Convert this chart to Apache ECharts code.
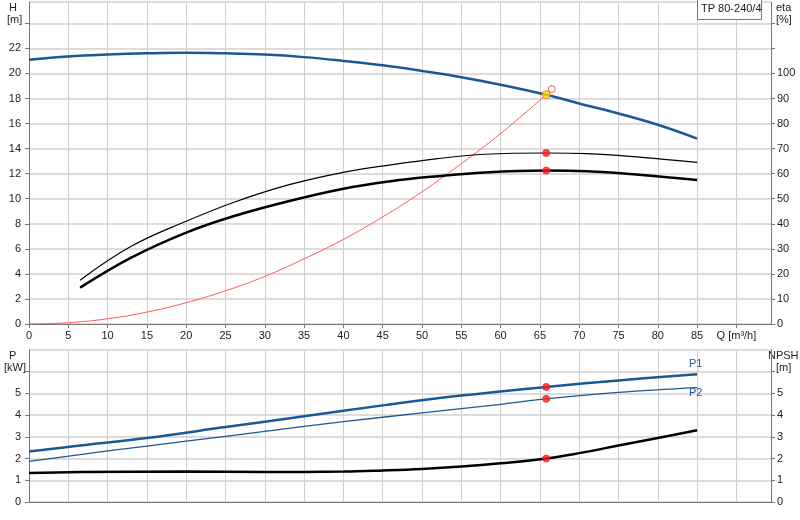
<!DOCTYPE html><html><head><meta charset="utf-8"><script src="https://cdn.jsdelivr.net/npm/echarts@6/dist/echarts.min.js"></script>
<style>html,body{margin:0;padding:0;background:#fff}#c{width:800px;height:520px}</style></head><body><div id="c"></div><script>
const hQ=[0,5,10,15,20,25,30,35,40,45,50,55,60,65.8,70,75,80,85];
const hV=[21.1,21.35,21.5,21.6,21.65,21.6,21.5,21.3,21.0,20.65,20.2,19.7,19.1,18.3,17.6,16.8,15.9,14.8];
const etaQ=[6.5,13,20,26,33,40,46,52,58,65.8,71,78,85];
const eta1=[14.5,26.5,36.5,43,49,54,57,59,60.5,61.25,61,59.5,57.5];
const etaQ2=[6.5,13,20,26,33,40,46,52,58,65.8,71,78,85];
const eta2=[17.5,31,41,48.5,55.5,60.5,63.5,66,67.75,68.25,68,66.5,64.5];
const sysQ=[0,5,10,15,20,25,30,35,40,45,50,55,60,65.8];
const sysV=[0,0.1,0.42,0.95,1.7,2.65,3.8,5.2,6.75,8.55,10.55,12.8,15.2,18.3];
const p1Q=[0,6.5,15,25,35,45,55,65.8,75,85];
const p1V=[2.33,2.6,2.95,3.45,3.95,4.45,4.9,5.3,5.6,5.88];
const p2Q=[0,10,20,30,40,50,60,65.8,75,85];
const p2V=[1.87,2.35,2.8,3.25,3.7,4.1,4.5,4.75,5.05,5.27];
const npQ=[0,6.5,20,30,40,45,50,55,60,65.8,70,75,80,85];
const npV=[1.33,1.38,1.4,1.38,1.4,1.45,1.52,1.63,1.78,2.0,2.25,2.6,2.95,3.3];
const dutyQ=65.8;
const z=(a,b)=>a.map((x,i)=>[x,b[i]]);
const blue='#1b5995',tc='#222',fs=11,ff='Arial, Liberation Sans';
const grid=(c)=>({show:true,lineStyle:{color:c||'#d4d4d4',width:1}});
const xAx=(gi,lab)=>({type:'value',gridIndex:gi,min:0,max:94.4,interval:5,
 axisLine:{lineStyle:{color:'#777'}},axisTick:{show:lab,lineStyle:{color:'#777'},length:4},
 axisLabel:{show:lab,color:tc,fontSize:fs,fontFamily:ff,margin:6,showMaxLabel:false,formatter:v=>v>85?(v==90?'Q [m³/h]':''):v},
 splitLine:grid('#d0d0d0')});
const yAx=(gi,max,iv,pos,show,fmt)=>({type:'value',gridIndex:gi,min:0,max:max,interval:iv,position:pos,
 axisLine:{show:true,lineStyle:{color:'#777'}},axisTick:{show:true,length:4,lineStyle:{color:'#777'}},
 axisLabel:{show:true,color:tc,fontSize:fs,fontFamily:ff,margin:pos=='left'?8:6,showMaxLabel:false,formatter:fmt},
 splitLine:show?{show:true,lineStyle:{color:'#dcdcdc',width:2}}:{show:false}});
const line=(name,d,xi,yi,c,w,extra)=>Object.assign({type:'line',name:name,data:d,xAxisIndex:xi,yAxisIndex:yi,smooth:0.4,symbol:'none',lineStyle:{color:c,width:w},z:3},extra||{});
const dot=(d,xi,yi,color,size,bc)=>({type:'scatter',data:d,xAxisIndex:xi,yAxisIndex:yi,symbolSize:size,itemStyle:{color:color,borderColor:bc||color,borderWidth:1},z:5});
const ch=echarts.init(document.getElementById('c'),null,{renderer:'canvas'});
ch.setOption({animation:false,
grid:[{left:29,right:29,top:2,bottom:196},{left:29,right:29,top:350,bottom:18}],
xAxis:[xAx(0,true),xAx(1,false)],
yAxis:[yAx(0,25.7,2,'left',true,v=>v>22?'':v),yAx(0,128.5,10,'right',false,v=>v>100?'':v),
 yAx(1,7,1,'left',true,v=>v>5?'':v),yAx(1,7,1,'right',false,v=>v>5?'':v)],
series:[
 line('sys',z(sysQ,sysV),0,0,'#ff5a5a',1),
 line('H',z(hQ,hV),0,0,blue,2.5),
 line('eta2',z(etaQ2,eta2),0,1,'#000',1.2),
 line('eta1',z(etaQ,eta1),0,1,'#000',2.5),
 dot([[dutyQ,61.25],[dutyQ,68.25]],0,1,'#ff1a1a',7),
 dot([[dutyQ,18.3]],0,0,'#ffe000',8,'#ff6a00'),
 dot([[66.5,18.75]],0,0,'rgba(0,0,0,0)',7,'#ff3030'),
 line('P1',z(p1Q,p1V),1,2,blue,2.5),
 line('P2',z(p2Q,p2V),1,2,blue,1.3),
 line('NPSH',z(npQ,npV),1,3,'#000',2.5),
 dot([[dutyQ,5.3],[dutyQ,4.75]],1,2,'#ff1a1a',7),
 dot([[dutyQ,2.0]],1,3,'#ff1a1a',7)
],
graphic:[
 {type:'text',left:9,top:2,style:{text:'H',fontSize:fs,fontFamily:ff,fill:tc}},
 {type:'text',left:7,top:14,style:{text:'[m]',fontSize:fs,fontFamily:ff,fill:tc}},
 {type:'text',left:776,top:2,style:{text:'eta',fontSize:fs,fontFamily:ff,fill:tc}},
 {type:'text',left:776,top:14,style:{text:'[%]',fontSize:fs,fontFamily:ff,fill:tc}},
 {type:'text',left:9,top:350,style:{text:'P',fontSize:fs,fontFamily:ff,fill:tc}},
 {type:'text',left:4,top:362,style:{text:'[kW]',fontSize:fs,fontFamily:ff,fill:tc}},
 {type:'text',left:768,top:350,style:{text:'NPSH',fontSize:fs,fontFamily:ff,fill:tc}},
 {type:'text',left:776,top:362,style:{text:'[m]',fontSize:fs,fontFamily:ff,fill:tc}},
 {type:'rect',left:697,top:-1,shape:{width:64,height:20},style:{fill:'#fff',stroke:'#777',lineWidth:1},z:10},
 {type:'text',left:701,top:3,style:{text:'TP 80-240/4',fontSize:fs,fontFamily:ff,fill:tc},z:11},
 {type:'text',left:689,top:358,style:{text:'P1',fontSize:fs,fontFamily:ff,fill:blue},z:11},
 {type:'text',left:689,top:387,style:{text:'P2',fontSize:fs,fontFamily:ff,fill:blue},z:11}
]});
</script></body></html>
